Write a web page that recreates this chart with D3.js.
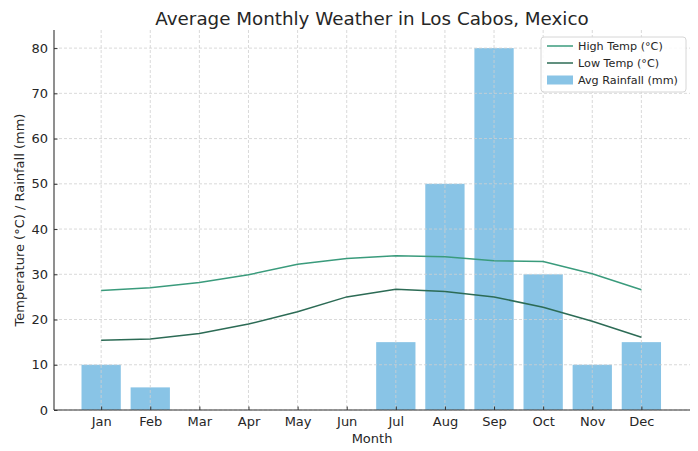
<!DOCTYPE html>
<html><head><meta charset="utf-8">
<script src="https://cdn.jsdelivr.net/npm/d3@7"></script>
<style>body{margin:0;background:#fff}text{font-family:"DejaVu Sans",sans-serif;fill:#262626}</style>
</head><body><svg id="c" width="698" height="451"></svg>
<script>
const months = ["Jan","Feb","Mar","Apr","May","Jun","Jul","Aug","Sep","Oct","Nov","Dec"];
const highTemp = [26.4,27.0,28.2,29.9,32.2,33.5,34.1,33.9,33.0,32.8,30.1,26.6];
const lowTemp = [15.4,15.7,16.9,19.0,21.7,25.0,26.7,26.2,25.0,22.7,19.6,16.1];
const rainfall = [10,5,0,0,0,0,15,50,80,30,10,15];
const yTicks = [0,10,20,30,40,50,60,70,80];

const svg = d3.select("#c");
const L = 54, R = 690, T = 30, B = 410;
const x = d3.scaleLinear().domain([-0.96, 11.99]).range([L, R]);
const y = d3.scaleLinear().domain([0, 84]).range([B, T]);
const bw = x(0.8) - x(0);

// bars
svg.append("g").selectAll("rect").data(rainfall).join("rect")
  .attr("x", (d,i) => x(i) - bw/2).attr("width", bw)
  .attr("y", d => y(d)).attr("height", d => B - y(d))
  .attr("fill", "#89c4e6");

// grid
const g = svg.append("g").attr("stroke", "#cfcfcf").attr("stroke-dasharray", "3,2").attr("stroke-width", 0.8);
months.forEach((m,i) => g.append("line").attr("x1", x(i)).attr("x2", x(i)).attr("y1", T).attr("y2", B));
yTicks.forEach(t => g.append("line").attr("x1", L).attr("x2", R).attr("y1", y(t)).attr("y2", y(t)));

// lines
const line = d3.line().x((d,i) => x(i)).y(d => y(d));
svg.append("path").datum(highTemp).attr("d", line).attr("fill","none").attr("stroke","#3a9b7c").attr("stroke-width",1.5);
svg.append("path").datum(lowTemp).attr("d", line).attr("fill","none").attr("stroke","#2c6b55").attr("stroke-width",1.5);

// axes
const xAxis = d3.axisBottom(x).tickValues(d3.range(12)).tickFormat(i => months[i]).tickSizeInner(-3.5).tickSizeOuter(0).tickPadding(7);
const xg = svg.append("g").attr("transform", `translate(0,${B})`).call(xAxis);
const yAxis = d3.axisLeft(y).tickValues(yTicks).tickSizeInner(-3.5).tickSizeOuter(0).tickPadding(6);
const yg = svg.append("g").attr("transform", `translate(${L},0)`).call(yAxis);
[xg, yg].forEach(a => {
  a.selectAll("text").style("font-size","13px").style("font-family","DejaVu Sans").attr("fill","#262626");
  a.select(".domain").attr("stroke","#333").attr("stroke-width",1.1);
  a.selectAll(".tick line").attr("stroke","#333");
});
xg.select(".domain").attr("d", `M${L},0H${R}`);
yg.select(".domain").attr("d", `M0,${B}V${T}`);

// labels
svg.append("text").attr("x", (L+R)/2).attr("y", 25).attr("text-anchor","middle").style("font-size","18.3px").text("Average Monthly Weather in Los Cabos, Mexico");
svg.append("text").attr("x", (L+R)/2).attr("y", 443).attr("text-anchor","middle").style("font-size","13px").text("Month");
svg.append("text").attr("transform", `translate(24,${(T+B)/2}) rotate(-90)`).attr("text-anchor","middle").style("font-size","13px").text("Temperature (°C) / Rainfall (mm)");

// legend
const lg = svg.append("g").attr("transform","translate(541,37)");
lg.append("rect").attr("width",145).attr("height",55).attr("rx",3).attr("fill","#fff").attr("fill-opacity",0.85).attr("stroke","#d6d6d6");
const items = [["High Temp (°C)","line","#3a9b7c"],["Low Temp (°C)","line","#2c6b55"],["Avg Rainfall (mm)","rect","#89c4e6"]];
items.forEach((it,i) => {
  const yy = 9 + i*17;
  if (it[1] === "line") lg.append("line").attr("x1",6).attr("x2",32).attr("y1",yy).attr("y2",yy).attr("stroke",it[2]).attr("stroke-width",1.5);
  else lg.append("rect").attr("x",6).attr("y",yy-4.5).attr("width",26).attr("height",9).attr("fill",it[2]);
  lg.append("text").attr("x",37).attr("y",yy+4).style("font-size","11.2px").text(it[0]);
});
</script></body></html>
